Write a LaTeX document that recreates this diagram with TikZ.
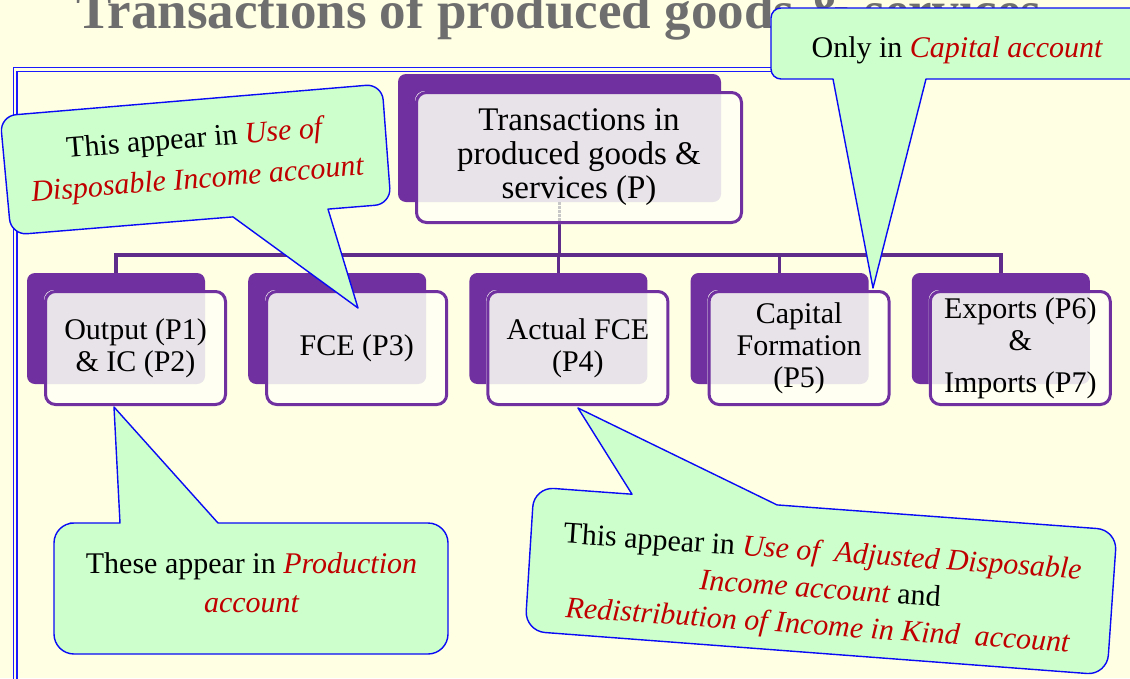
\documentclass[tikz,border=0pt]{standalone}
\usepackage{fontspec}
\setmainfont{Liberation Serif}
\usetikzlibrary{calc}
\definecolor{bgcream}{HTML}{FFFFE4}
\definecolor{boxcream}{HTML}{FFFFF2}
\definecolor{overgray}{HTML}{E8E3E8}
\definecolor{purp}{HTML}{7030A0}
\definecolor{connp}{HTML}{602C8C}
\definecolor{calloutgreen}{HTML}{CCFFCC}
\definecolor{calloutblue}{HTML}{0A0AF5}
\definecolor{accred}{HTML}{C00000}
\definecolor{titlegray}{HTML}{6E6E6E}
\definecolor{framebl}{HTML}{1A1AFF}
\pgfdeclarelayer{bg}
\pgfdeclarelayer{back}
\pgfdeclarelayer{fore}
\pgfsetlayers{bg,back,main,fore}
\newcommand{\redit}[1]{\textcolor{accred}{\itshape #1}}
\begin{document}
\begin{tikzpicture}[x=1pt,y=-1pt,
  frontbox/.style={draw=purp, line width=3pt, rounded corners=10pt, minimum width=180pt, minimum height=113pt, inner sep=0pt, align=center, font=\fontsize{30}{32}\selectfont},
  mainbox/.style={frontbox, minimum width=325pt, minimum height=130pt, font=\fontsize{33}{34}\selectfont},
  conn/.style={draw=connp, line width=3.5pt},
  backrect/.style={fill=purp, rounded corners=8pt},
  callout/.style={fill=calloutgreen, draw=calloutblue, line width=1.4pt, line join=round},
  calltext/.style={align=center, inner sep=0pt},
]
\useasboundingbox (0,0) rectangle (1130,678);
\clip (0,0) rectangle (1130,678);

% boxes
\node[mainbox] (m) at (579,157.5) {Transactions in\\produced goods \&\\services (P)};
\node[frontbox] (c1) at (135.5,348) {Output (P1)\\\& IC (P2)};
\node[frontbox] (c2) at (356.7,348) {FCE (P3)};
\node[frontbox] (c3) at (577.9,348) {Actual FCE\\(P4)};
\node[frontbox] (c4) at (799.1,348) {Capital\\Formation\\(P5)};
\node[frontbox] (c5) at (1020.3,348) {Exports (P6)\\\&\\[10pt]Imports (P7)};

\begin{pgfonlayer}{bg}
  \fill[bgcream] (0,0) rectangle (1130,678);
  \node[anchor=base west, font=\fontsize{53}{53}\selectfont\bfseries, text=titlegray, inner sep=0pt] (title) at (76,28) {Transactions of produced goods \& services};
  \draw[framebl, line width=1.5pt] (13.5,67.5) rectangle (1200,800);
  \draw[framebl, line width=1.5pt] (17,71.5) rectangle (1196,796);
  \coordinate (mj) at ([xshift=-19.5pt]m.south);
  \foreach \c in {c1,c2,c3,c4,c5}{
    \draw[conn] (mj) -- ++(0,31) -| ([xshift=-19.5pt,yshift=17pt]\c.north);
  }
\end{pgfonlayer}

\begin{pgfonlayer}{back}
  \foreach \b in {m,c1,c2,c3,c4,c5}{
    \fill[backrect] ([shift={(-17,-17)}]\b.north west) rectangle ([shift={(-22,-22)}]\b.south east);
    \fill[boxcream, rounded corners=10pt] (\b.north west) rectangle (\b.south east);
    \begin{scope}
      \clip[rounded corners=10pt] (\b.north west) rectangle (\b.south east);
      \fill[overgray, rounded corners=8pt] ([shift={(-17,-17)}]\b.north west) rectangle ([shift={(-22,-22)}]\b.south east);
    \end{scope}
  }
  \draw[line width=3pt, draw=black!22, densely dotted] ([yshift=22pt]mj) -- (mj);
\end{pgfonlayer}

\begin{pgfonlayer}{fore}
  % callout A
  \coordinate (tipA) at (358,308);
  \draw[callout] (191,100) [rounded corners=16pt] -- (382,84) -- (391,204) -- (360,206.5)
     [sharp corners] -- (328,209.1) -- (tipA) -- (233,216.9) -- (180,221.2)
     [rounded corners=16pt] -- (11,235) -- (0,116) -- cycle;
  \node[calltext, rotate=4.6, font=\fontsize{30}{41}\selectfont] (ta) at (196,160.5)
     {This appear in \redit{Use of}\\\redit{Disposable Income account}};
  % callout B
  \coordinate (tipB) at (873,288);
  \draw[callout] (950,8) [rounded corners=10pt] -- (1145,8) -- (1145,79) -- (960,79)
     [sharp corners] -- (926,79) -- (tipB) -- (833,79) -- (810,79)
     [rounded corners=10pt] -- (771,79) -- (771,8) -- cycle;
  \node[calltext, font=\fontsize{30}{32}\selectfont, anchor=base] (tb) at (957,57)
     {Only in \redit{Capital account}};
  % callout C
  \coordinate (tipC) at (114,407);
  \draw[callout] (250,654) [rounded corners=20pt] -- (54,654) -- (54,523) -- (90,523)
     [sharp corners] -- (120,523) -- (tipC) -- (218,523) -- (250,523)
     [rounded corners=20pt] -- (448,523) -- (448,654) -- cycle;
  \node[calltext, font=\fontsize{30}{39}\selectfont] (tc) at (251.5,582.5)
     {These appear in \redit{Production}\\\redit{account}};
  % callout D
  \coordinate (tipD) at (578,408);
  \draw[callout] (816,653) [rounded corners=20pt] -- (525,631) -- (534,487) -- (600,491.9)
     [sharp corners] -- (632,494.2) -- (tipD) -- (777,504.9) -- (820,508.1)
     [rounded corners=20pt] -- (1117,530) -- (1107,675) -- cycle;
  \node[calltext, rotate=-4, font=\fontsize{30}{37}\selectfont] (td) at (820,590.5)
     {This appear in \redit{Use of\ \ Adjusted Disposable}\\\redit{Income account} and\\\redit{Redistribution of Income in Kind\ \ account}};
\end{pgfonlayer}
\end{tikzpicture}
\end{document}
